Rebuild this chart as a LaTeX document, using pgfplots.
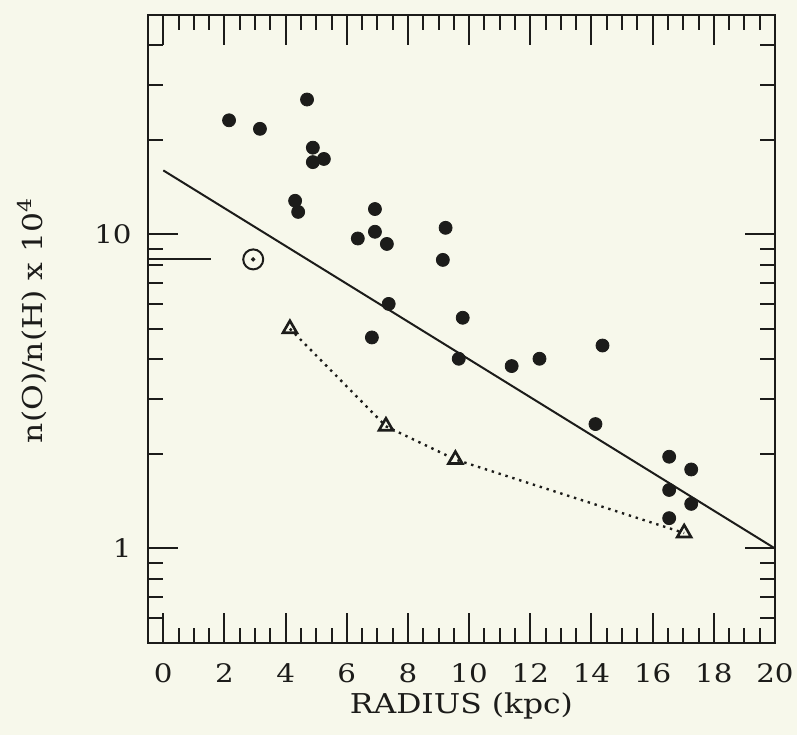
\documentclass[border=0pt]{standalone}
\usepackage{fontspec}
\setmainfont[FakeStretch=1.15]{DejaVu Serif}
\usepackage{pgfplots}
\pgfplotsset{compat=1.18}
\usetikzlibrary{backgrounds}
\definecolor{ink}{RGB}{28,28,26}
\definecolor{paper}{RGB}{247,248,235}
\begin{document}
\begin{tikzpicture}[show background rectangle, background rectangle/.style={fill=paper, draw=none}, inner frame sep=0pt]
\begin{axis}[name=ax, scale only axis, width=313.5bp, height=314bp,
  ymode=log, xmin=-0.5, xmax=20, ymin=0.5, ymax=50,
  xtick={0,2,...,20}, xticklabels={0,2,4,6,8,10,12,14,16,18,20},
  minor xtick={0.5,1,1.5,2.5,3,3.5,4.5,5,5.5,6.5,7,7.5,8.5,9,9.5,10.5,11,11.5,12.5,13,13.5,14.5,15,15.5,16.5,17,17.5,18.5,19,19.5},
  ytick={1,10}, yticklabels={1,10},
  minor ytick={0.6,0.7,0.8,0.9,2,3,4,5,6,7,8,9,20,30,40},
  tick pos=both, tick align=inside,
  major tick length=15bp, minor tick length=7.5bp,
  every tick/.style={ink, line width=1bp},
  axis line style={ink, line width=1.3bp},
  /pgf/number format/assume math mode=true,
  tick label style={font=\fontsize{12.8}{14}\selectfont, text=ink},
  xticklabel style={inner sep=0pt, anchor=north, yshift=-10bp},
  yticklabel style={inner sep=0pt, anchor=east, xshift=-8bp},
  xlabel={RADIUS (kpc)},
  xlabel style={at={(axis description cs:0.5,-0.1115)}, anchor=base, font=\fontsize{13.7}{15}\selectfont, text=ink},
  ylabel={n(O)/n(H) x 10\textsuperscript{4}},
  ylabel style={at={(axis description cs:-0.185,0.514)}, anchor=center, font=\fontsize{13.7}{15}\selectfont, text=ink},
  clip=false,
]
% fitted gradient
\addplot[ink, line width=1bp] coordinates {(0,16) (20,1.0)};
% solar value mark
\addplot[ink, line width=1bp] coordinates {(-0.5,8.35) (1.55,8.35)};
\addplot[only marks, mark=o, mark size=5bp, mark options={ink, line width=1bp}] coordinates {(2.94,8.33)};
\addplot[only marks, mark=*, mark size=0.9bp, mark options={ink, fill=ink}] coordinates {(2.94,8.33)};
% HII region abundances
\addplot[only marks, mark=*, mark size=3.25bp, mark options={draw=ink, fill=ink}] coordinates {
(2.15,23.1) (3.16,21.7) (4.70,26.9) (4.89,18.9) (4.89,17.0) (5.25,17.4)
(4.31,12.8) (4.41,11.8) (6.92,12.05) (6.92,10.2) (6.36,9.71) (7.31,9.33)
(9.23,10.5) (9.14,8.30) (7.37,6.01) (6.82,4.70) (9.79,5.43) (9.66,4.02)
(11.39,3.81) (12.30,4.02) (14.36,4.43) (14.13,2.49) (16.54,1.96) (17.26,1.785)
(16.54,1.536) (17.26,1.387) (16.54,1.249)};
% planetary nebulae / other
\addplot[ink, line width=1.2bp, dash pattern=on 1.2bp off 2.4bp, mark=triangle, mark size=4bp,
  mark options={solid, ink, line width=1.3bp, fill=paper}] coordinates {
(4.14,5.01) (7.28,2.45) (9.55,1.92) (17.03,1.12)};
\end{axis}
\path ([shift={(-74bp,-46bp)}]ax.south west) rectangle ([shift={(11bp,7.5bp)}]ax.north east);
\end{tikzpicture}
\end{document}
